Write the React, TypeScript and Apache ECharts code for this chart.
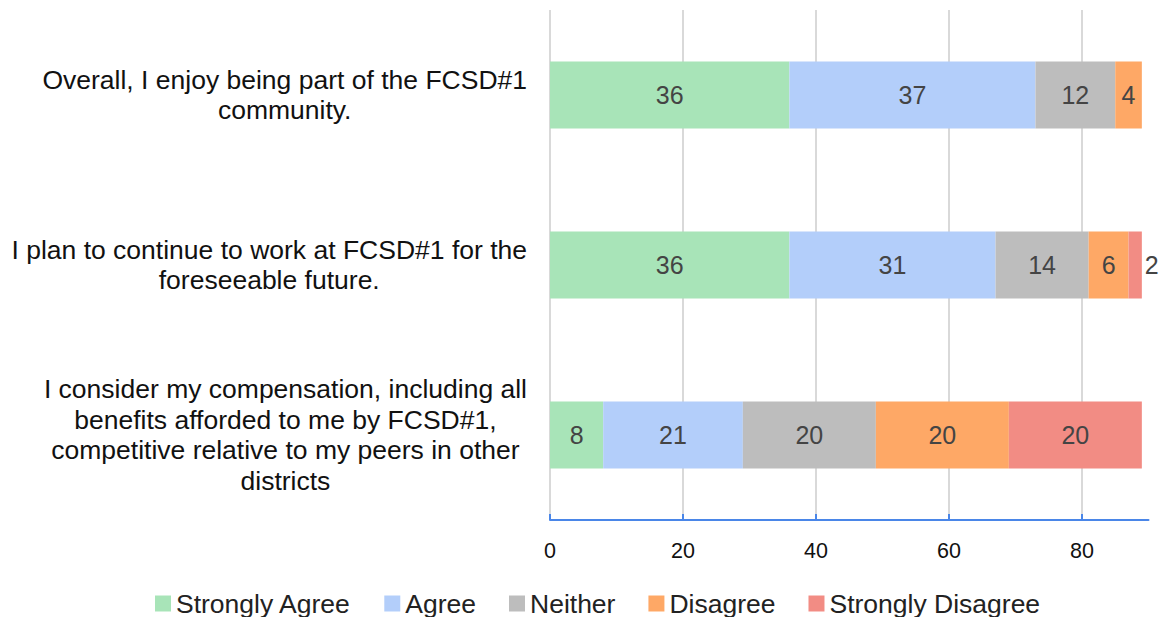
import React, { useEffect, useRef } from "react";
import * as echarts from "echarts";

const categories = [
  "Overall, I enjoy being part of the FCSD#1\ncommunity.",
  "I plan to continue to work at FCSD#1 for the\nforeseeable future.",
  "I consider my compensation, including all\nbenefits afforded to me by FCSD#1,\ncompetitive relative to my peers in other\ndistricts",
];
const seriesNames = ["Strongly Agree", "Agree", "Neither", "Disagree", "Strongly Disagree"];
const stronglyAgree = [36, 36, 8];
const agree = [37, 31, 21];
const neither = [12, 14, 20];
const disagree = [4, 6, 20];
const stronglyDisagree = [0, 2, 20];
const colors = ["#a8e4b8", "#b3cefa", "#bdbdbd", "#fea866", "#f28c84"];
const xTicks = [0, 20, 40, 60, 80];

export default function App() {
  const ref = useRef<HTMLDivElement>(null);
  useEffect(() => {
    if (!ref.current) return;
    const chart = echarts.init(ref.current, null, { renderer: "svg" });
    const all = [stronglyAgree, agree, neither, disagree, stronglyDisagree];
    const font = "'Liberation Sans', Arial, sans-serif";
    chart.setOption({
      animation: false,
      textStyle: { fontFamily: font },
      grid: { left: 550, right: 11.5, top: 10, bottom: 97, containLabel: false },
      legend: {
        top: 590,
        left: 155,
        padding: 0,
        icon: "rect",
        itemWidth: 16,
        itemHeight: 16,
        itemGap: 33,
        textStyle: { fontSize: 26.5, lineHeight: 26, color: "#222", fontFamily: font },
        data: seriesNames,
      },
      xAxis: {
        type: "value",
        min: 0,
        max: 90,
        interval: 20,
        axisLine: { show: true, lineStyle: { color: "#4a86e8", width: 2 } },
        axisTick: { show: true, inside: true, length: 6, lineStyle: { color: "#4a86e8", width: 2 } },
        axisLabel: {
          fontSize: 21.5,
          color: "#111",
          margin: 20,
          showMaxLabel: false,
          formatter: (v: number) => (xTicks.includes(v) ? String(v) : ""),
        },
        splitLine: { show: true, showMaxLine: false, lineStyle: { color: "#d9d9d9", width: 2 } },
      },
      yAxis: {
        type: "category",
        inverse: true,
        data: categories,
        axisLine: { show: false },
        axisTick: { show: false },
        axisLabel: {
          margin: 23,
          align: "right",
          formatter: (v: string) => v.split("\n").map((l) => `{c|${l}}`).join("\n"),
          rich: {
            c: { align: "center", fontSize: 26.5, lineHeight: 30.7, color: "#111", fontFamily: font },
          },
        },
      },
      series: seriesNames.map((name, i) => ({
        name,
        type: "bar",
        stack: "total",
        barWidth: 67,
        itemStyle: { color: colors[i] },
        label: {
          show: true,
          position: "inside",
          fontSize: 25,
          color: "#444",
          fontFamily: font,
          formatter: (p: any) => (p.value > 0 ? String(p.value) : ""),
        },
        data: all[i].map((v) =>
          v > 0 && v < 3
            ? { value: v, label: { position: "right", distance: 3 } }
            : v
        ),
      })),
    });
    return () => chart.dispose();
  }, []);
  return (
    <div
      ref={ref}
      style={{ position: "fixed", left: 0, top: 0, width: 1160, height: 617, background: "#fff" }}
    />
  );
}
